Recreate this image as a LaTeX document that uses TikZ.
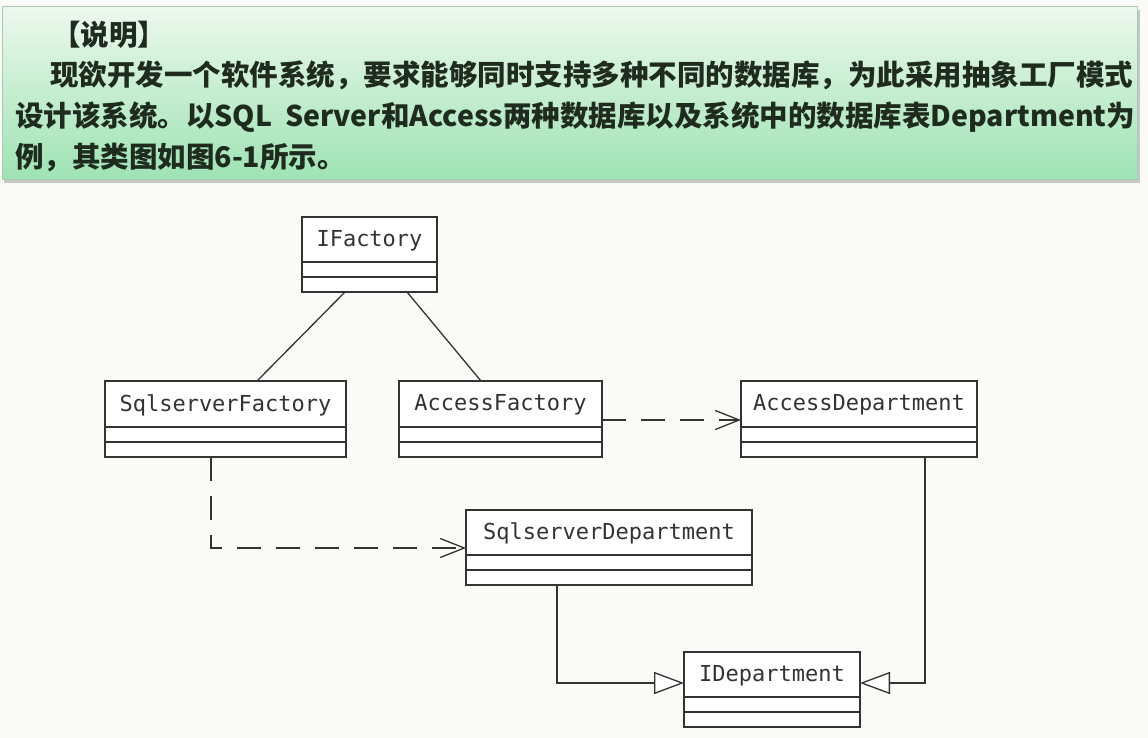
\documentclass[tikz,border=0pt]{standalone}
\usepackage{fontspec}
\newfontfamily\cjk{Noto Sans CJK SC}
\newfontfamily\umlfont{DejaVu Sans Mono}
\usetikzlibrary{arrows.meta,shadows}
\definecolor{bgc}{HTML}{FAFAF7}
\definecolor{gtop}{HTML}{ECF8EC}
\definecolor{gbot}{HTML}{9EE3B4}
\definecolor{gborder}{HTML}{A9C9B0}
\definecolor{txtc}{HTML}{1E2B1E}
\definecolor{umlc}{HTML}{333333}
\tikzset{
  cls/.style={draw=umlc, line width=1.2pt, fill=white},
  divl/.style={draw=umlc, line width=1.2pt},
  lbl/.style={font=\umlfont\fontsize{22}{24}\selectfont, text=umlc, inner sep=0pt},
  conn/.style={draw=umlc, line width=1.3pt},
  dep/.style={conn, dash pattern=on 24pt off 15pt, -{Straight Barb[length=24pt,width=19pt,line width=1.3pt]}},
  gen/.style={conn, -{Triangle[open,length=30pt,width=22pt,line width=1.3pt,fill=white]}},
  desc/.style={font=\cjk\bfseries\fontsize{28.5}{30}\selectfont, text=txtc, inner sep=0pt, anchor=base west},
}
\begin{document}
\begin{tikzpicture}[x=1pt,y=-1pt]
\useasboundingbox (0,0) rectangle (1148,738);
\fill[bgc] (0,0) rectangle (1148,738);
% description box
\fill[black!22] (4,10) rectangle (1140,183);
\shade[top color=gtop, bottom color=gbot, draw=gborder, line width=1pt] (2,7) rectangle (1137,180);
\node[desc] (t1) at (52,46) {【说明】};
\node[desc] (t2) at (50,86) {现欲开发一个软件系统，要求能够同时支持多种不同的数据库，为此采用抽象工厂模式};
\node[desc] (t3) at (15,127) {设计该系统。以SQL\ \ Server和Access两种数据库以及系统中的数据库表Department为};
\node[desc] (t4) at (15,168) {例，其类图如图6-1所示。};
% classes
\newcommand\umlclass[6]{% name, x1, y1, x2, y2, text
  \path[cls] (#2,#3) rectangle (#4,#5);
  \coordinate (#1-nw) at (#2,#3);
  \coordinate (#1-se) at (#4,#5);
  \draw[divl] (#2,#5-30) -- (#4,#5-30);
  \draw[divl] (#2,#5-15) -- (#4,#5-15);
  \node[lbl] (#1) at ({(#2+#4)/2},{(#3+#5-30)/2+1}) {#6};
}
\umlclass{ifac}{302}{217}{437}{292}{IFactory}
\umlclass{sfac}{105}{381}{346}{457}{SqlserverFactory}
\umlclass{afac}{399}{381}{602}{457}{AccessFactory}
\umlclass{adep}{741}{381}{977}{457}{AccessDepartment}
\umlclass{sdep}{466}{510}{752}{585}{SqlserverDepartment}
\umlclass{idep}{684}{652}{860}{727}{IDepartment}
% connectors
\coordinate (c1) at (345,292);
\coordinate (c2) at (257,381);
\coordinate (c3) at (407,292);
\coordinate (c4) at (481,381);
\draw[conn] (c1) -- (c2);
\draw[conn] (c3) -- (c4);
\coordinate (d1) at (602,420);
\coordinate (d2) at (741,420);
\draw[dep] (d1) -- (d2);
\coordinate (e1) at (211,457);
\coordinate (e2) at (211,548);
\coordinate (e3) at (466,548);
\draw[dep] (e1) -- (e2) -- (e3);
\coordinate (f1) at (557,585);
\coordinate (f2) at (557,683);
\coordinate (f3) at (684,683);
\draw[gen] (f1) -- (f2) -- (f3);
\coordinate (g1) at (925,457);
\coordinate (g2) at (925,683);
\coordinate (g3) at (860,683);
\draw[gen] (g1) -- (g2) -- (g3);
\end{tikzpicture}
\end{document}
